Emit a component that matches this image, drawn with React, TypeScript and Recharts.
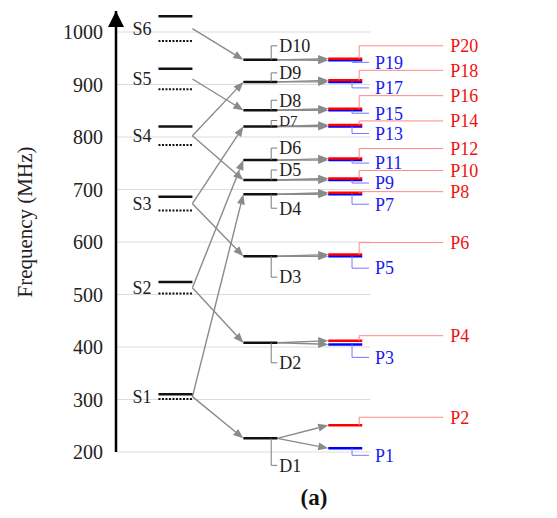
import { ComposedChart, XAxis, YAxis, Scatter, ReferenceLine, ReferenceDot } from 'recharts';

const SERIF = '"Liberation Serif", "Times New Roman", serif';

// source levels (MHz): solid and dotted line of each pair
const S_NAMES = ['S1', 'S2', 'S3', 'S4', 'S5', 'S6'];
const S_SOLID = [310, 524, 686, 820, 930, 1030];
const S_DOTTED = [301, 502, 660, 785, 891, 983];

// difference levels
const D_NAMES = ['D1', 'D2', 'D3', 'D4', 'D5', 'D6', 'D7', 'D8', 'D9', 'D10'];
const D_FREQ = [226, 408, 573, 691, 718, 756, 820, 851, 905, 947];

// product levels: blue = odd P, red = even P
const P_BLUE_NAMES = ['P1', 'P3', 'P5', 'P7', 'P9', 'P11', 'P13', 'P15', 'P17', 'P19'];
const P_BLUE = [207, 405, 573, 691, 718, 756, 820, 851, 905, 946];
const P_RED_NAMES = ['P2', 'P4', 'P6', 'P8', 'P10', 'P12', 'P14', 'P16', 'P18', 'P20'];
const P_RED = [251, 412, 576, 694, 721, 759, 823, 854, 908, 949];

// which S feeds which D (indexes)
const S_TO_D: [number, number][] = [
  [0, 0], [0, 3], [1, 1], [1, 5], [2, 2], [2, 6], [3, 4], [3, 8], [4, 7], [5, 9],
];

const Y_TICKS = [200, 300, 400, 500, 600, 700, 800, 900, 1000];

// column layout (x units)
const S_COL = [0, 1];
const D_COL = [2.5, 3.5];
const P_COL = [5, 6];
const X_DOMAIN = [-1.25, 11.5];
const GRID_END = 6.24;

// label offsets in px from the level line
const D_LABEL_DY = [27, 20, 21, 14, -10, -12, -6, -10, -9, -14];
const BLUE_LABEL_DY = [7, 13, 12, 10, 3, 3, 7, 3, 6, 2];
const RED_LABEL_DY = [-8, -5, -12, -1, -8, -10, -4, -13, -10, -13];

const arrowShape = (props: any) => {
  const { x1, y1, x2, y2 } = props;
  const a = Math.atan2(y2 - y1, x2 - x1);
  const L = 10;
  const W = 4;
  const bx = x2 - L * Math.cos(a);
  const by = y2 - L * Math.sin(a);
  const pts = `${x2},${y2} ${bx - W * Math.sin(a)},${by + W * Math.cos(a)} ${bx + W * Math.sin(a)},${by - W * Math.cos(a)}`;
  return (
    <g>
      <line x1={x1} y1={y1} x2={bx} y2={by} stroke="#8a8a8a" strokeWidth={1.4} />
      <polygon points={pts} fill="#8a8a8a" />
    </g>
  );
};

const bracketLabel =
  (text: string, dy: number, lead: number, gap: number, line: string, color: string, size: number) =>
  (props: any) => {
    const { cx, cy } = props;
    const y = cy + dy;
    return (
      <g>
        <polyline points={`${cx},${cy} ${cx},${y} ${cx + lead},${y}`} fill="none" stroke={line} strokeWidth={1} />
        <text x={cx + gap} y={y} dy="0.35em" fill={color} style={{ fontSize: size, fontFamily: SERIF }}>
          {text}
        </text>
      </g>
    );
  };

const plainLabel = (text: string, dx: number) => (props: any) => (
  <text
    x={props.cx + dx}
    y={props.cy}
    dy="0.35em"
    textAnchor="end"
    fill="#222"
    style={{ fontSize: 18, fontFamily: SERIF }}
  >
    {text}
  </text>
);

const axisArrow = (props: any) => {
  const { cx, cy } = props;
  return <polygon points={`${cx},${cy} ${cx - 8},${cy + 16} ${cx + 8},${cy + 16}`} fill="#000" />;
};

export default function App() {
  const sMid = S_SOLID.map((v, i) => (v + S_DOTTED[i]) / 2);
  const hidden = D_FREQ.map((f) => ({ x: D_COL[0], y: f }));

  return (
    <div style={{ position: 'relative', width: 541, height: 502, fontFamily: SERIF }}>
      <ComposedChart
        width={541}
        height={502}
        margin={{ top: 3, right: 0, bottom: 58, left: 0 }}
        style={{ fontFamily: SERIF }}
      >
        <XAxis type="number" dataKey="x" domain={X_DOMAIN} hide allowDataOverflow />
        <YAxis
          type="number"
          dataKey="y"
          domain={[200, 1040]}
          ticks={Y_TICKS}
          width={108}
          allowDataOverflow
          axisLine={{ stroke: '#000', strokeWidth: 2.5 }}
          tickLine={false}
          tickSize={6}
          tickMargin={7}
          tick={{ fill: '#222', fontSize: 20, fontFamily: SERIF, style: { fontFamily: SERIF } }}
        />

        {Y_TICKS.map((t) => (
          <ReferenceLine key={`g${t}`} segment={[{ x: X_DOMAIN[0], y: t }, { x: GRID_END, y: t }]} stroke="#dcdcdc" strokeWidth={1} />
        ))}

        {S_TO_D.map(([s, d], i) => (
          <ReferenceLine
            key={`sd${i}`}
            segment={[{ x: S_COL[1], y: sMid[s] }, { x: D_COL[0], y: D_FREQ[d] }]}
            shape={arrowShape}
          />
        ))}
        {D_FREQ.map((f, i) => (
          <ReferenceLine key={`dpb${i}`} segment={[{ x: D_COL[1], y: f }, { x: P_COL[0], y: P_BLUE[i] }]} shape={arrowShape} />
        ))}
        {D_FREQ.map((f, i) => (
          <ReferenceLine key={`dpr${i}`} segment={[{ x: D_COL[1], y: f }, { x: P_COL[0], y: P_RED[i] }]} shape={arrowShape} />
        ))}

        {S_SOLID.map((v, i) => (
          <ReferenceLine key={`ss${i}`} segment={[{ x: S_COL[0], y: v }, { x: S_COL[1], y: v }]} stroke="#111" strokeWidth={2.5} />
        ))}
        {S_DOTTED.map((v, i) => (
          <ReferenceLine
            key={`sdot${i}`}
            segment={[{ x: S_COL[0], y: v }, { x: S_COL[1], y: v }]}
            stroke="#111"
            strokeWidth={2}
            strokeDasharray="2 1.5"
          />
        ))}
        {D_FREQ.map((v, i) => (
          <ReferenceLine key={`d${i}`} segment={[{ x: D_COL[0], y: v }, { x: D_COL[1], y: v }]} stroke="#111" strokeWidth={2.5} />
        ))}
        {P_BLUE.map((v, i) => (
          <ReferenceLine key={`pb${i}`} segment={[{ x: P_COL[0], y: v }, { x: P_COL[1], y: v }]} stroke="#0000ff" strokeWidth={2.5} />
        ))}
        {P_RED.map((v, i) => (
          <ReferenceLine key={`pr${i}`} segment={[{ x: P_COL[0], y: v }, { x: P_COL[1], y: v }]} stroke="#ff0000" strokeWidth={2.5} />
        ))}

        {S_NAMES.map((n, i) => (
          <ReferenceDot key={`sl${i}`} x={S_COL[0]} y={sMid[i]} ifOverflow="visible" shape={plainLabel(n, -7)} />
        ))}
        {D_NAMES.map((n, i) => (
          <ReferenceDot
            key={`dl${i}`}
            x={3.32}
            y={D_FREQ[i]}
            ifOverflow="visible"
            shape={bracketLabel(n, D_LABEL_DY[i], 6, 8, '#7a7a7a', '#222', n === 'D7' ? 15 : 18)}
          />
        ))}
        {P_BLUE_NAMES.map((n, i) => (
          <ReferenceDot
            key={`bl${i}`}
            x={5.7}
            y={P_BLUE[i]}
            ifOverflow="visible"
            shape={bracketLabel(n, BLUE_LABEL_DY[i], 17, 23, '#7777ff', '#1a1aee', 18)}
          />
        ))}
        {P_RED_NAMES.map((n, i) => (
          <ReferenceDot
            key={`rl${i}`}
            x={5.91}
            y={P_RED[i]}
            ifOverflow="visible"
            shape={bracketLabel(n, RED_LABEL_DY[i], 84, 91, '#ff8888', '#ee1111', 18)}
          />
        ))}

        <ReferenceDot x={X_DOMAIN[0]} y={1040} ifOverflow="visible" shape={axisArrow} />
        <Scatter data={hidden} isAnimationActive={false} shape={() => <g />} />
      </ComposedChart>

      <div
        style={{
          position: 'absolute',
          left: 17,
          top: 214,
          transform: 'translate(-50%, -50%) rotate(-90deg)',
          whiteSpace: 'nowrap',
          fontSize: 21,
          color: '#222',
        }}
      >
        Frequency (MHz)
      </div>
      <div
        style={{
          position: 'absolute',
          left: 306,
          top: 480,
          lineHeight: '20px',
          transform: 'translateX(-50%)',
          whiteSpace: 'nowrap',
          fontSize: 23,
          fontWeight: 'bold',
          color: '#111',
        }}
      >
        (a)
      </div>
    </div>
  );
}
